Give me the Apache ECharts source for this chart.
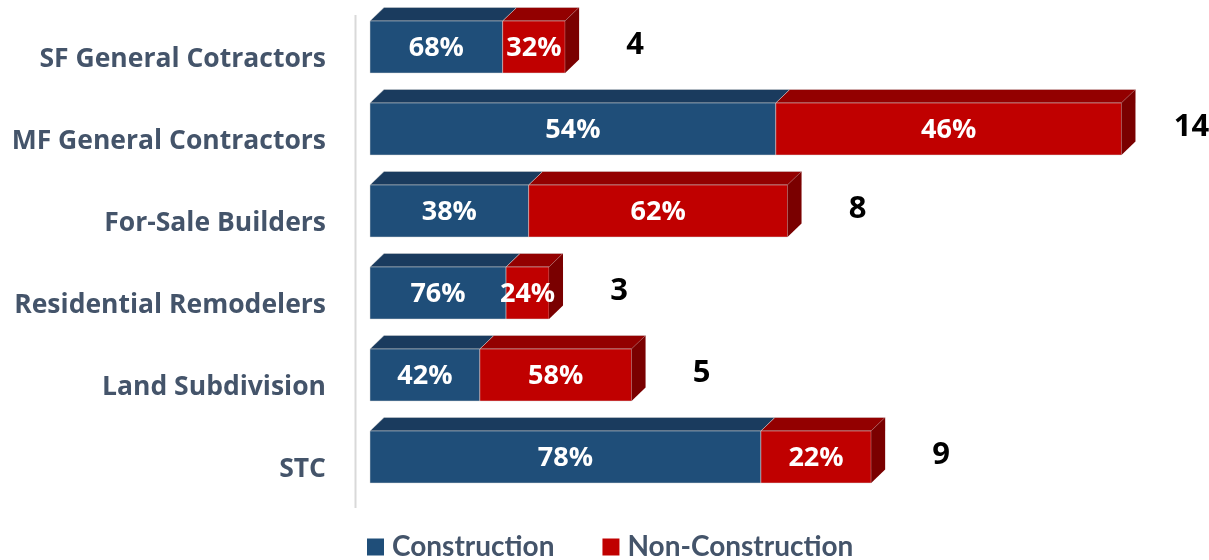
<!DOCTYPE html>
<html>
<head>
<meta charset="utf-8">
<script src="https://cdn.jsdelivr.net/npm/echarts@6/dist/echarts.min.js"></script>
<style>
html,body{margin:0;padding:0;background:#fff;}
#chart{width:1209px;height:560px;}
</style>
</head>
<body>
<div id="chart"></div>
<script>
// ---- data ----
const categories = ['SF General Cotractors', 'MF General Contractors', 'For-Sale Builders', 'Residential Remodelers', 'Land Subdivision', 'STC'];
const totals = [3.64, 14.02, 7.79, 3.34, 4.88, 9.35];
const totalLabels = ['4', '14', '8', '3', '5', '9'];
const constructionPct = [68, 54, 38, 76, 42, 78];
const nonConstructionPct = [32, 46, 62, 24, 58, 22];
const seriesNames = ['Construction', 'Non-Construction'];

// ---- styles ----
const FONT = '"Open Sans"';
const LEGEND_FONT = 'Lato';
const TEXT_COLOR = '#44546A';
const colors = {
  Construction: { front: '#1F4E79', top: '#1A3B5E', side: '#15304D' },
  'Non-Construction': { front: '#C00000', top: '#930000', side: '#7A0000' }
};
const DX = 14, DY = 13.5, BAR_RATIO = 52 / 82, TOTAL_OFFSET = 70;

const consData = categories.map((c, i) => [i, 0, totals[i] * constructionPct[i] / 100, constructionPct[i], '']);
const nonData = categories.map((c, i) => [i, totals[i] * constructionPct[i] / 100, totals[i], nonConstructionPct[i], totalLabels[i]]);

function makeRender(name, isLast) {
  const col = colors[name];
  return function (params, api) {
    const idx = api.value(0);
    const p0 = api.coord([api.value(1), idx]);
    const p1 = api.coord([api.value(2), idx]);
    const h = api.size([0, 1])[1] * BAR_RATIO;
    const x0 = p0[0], x1 = p1[0], y0 = p0[1] - h / 2;
    const edge = 'rgba(215,215,215,0.8)';
    const children = [
      { type: 'polygon', shape: { points: [[x0, y0], [x0 + DX, y0 - DY], [x1 + DX, y0 - DY], [x1, y0]] },
        style: { fill: col.top, stroke: edge, lineWidth: 0.6 } },
      { type: 'rect', shape: { x: x0, y: y0, width: x1 - x0, height: h },
        style: { fill: col.front, stroke: edge, lineWidth: 0.6 } }
    ];
    if (isLast) {
      children.push({ type: 'polygon', shape: { points: [[x1, y0], [x1 + DX, y0 - DY], [x1 + DX, y0 - DY + h], [x1, y0 + h]] },
        style: { fill: col.side } });
      children.push({ type: 'text', x: x1 + TOTAL_OFFSET, y: p0[1] - 2,
        style: { text: api.value(4), fill: '#000', font: 'bold 31px ' + FONT, align: 'center', verticalAlign: 'middle' } });
    }
    children.push({ type: 'text', x: (x0 + x1) / 2, y: p0[1] + 1,
      style: { text: api.value(3) + '%', fill: '#fff', font: 'bold 27px ' + FONT, align: 'center', verticalAlign: 'middle' } });
    return { type: 'group', children: children };
  };
}

const chart = echarts.init(document.getElementById('chart'), null, { renderer: 'canvas' });
chart.setOption({
  backgroundColor: '#ffffff',
  animation: false,
  grid: { left: 370, right: 35, top: 6, bottom: 62, containLabel: false },
  xAxis: { type: 'value', min: 0, max: 15, show: false },
  yAxis: {
    type: 'category', data: categories, inverse: true,
    axisLine: { show: false }, axisTick: { show: false }, splitLine: { show: false },
    axisLabel: { fontFamily: FONT, fontWeight: 'bold', fontSize: 26.5, color: TEXT_COLOR, margin: 44,
      verticalAlign: 'top', lineHeight: 25 }
  },
  legend: {
    data: seriesNames, left: 362, top: 528, icon: 'rect', itemWidth: 17, itemHeight: 17, itemGap: 48,
    textStyle: { fontFamily: LEGEND_FONT, fontWeight: 'bold', fontSize: 28, color: TEXT_COLOR, padding: [0, 0, 0, 3] }
  },
  graphic: [
    { type: 'line', shape: { x1: 355.5, y1: 15, x2: 355.5, y2: 508 }, style: { stroke: '#D9D9D9', lineWidth: 2 }, z: 0 }
  ],
  series: [
    { name: seriesNames[0], type: 'custom', renderItem: makeRender(seriesNames[0], false), data: consData,
      encode: { x: [1, 2], y: 0 }, itemStyle: { color: colors.Construction.front } },
    { name: seriesNames[1], type: 'custom', renderItem: makeRender(seriesNames[1], true), data: nonData,
      encode: { x: [1, 2], y: 0 }, itemStyle: { color: colors['Non-Construction'].front } }
  ]
});
</script>
</body>
</html>
